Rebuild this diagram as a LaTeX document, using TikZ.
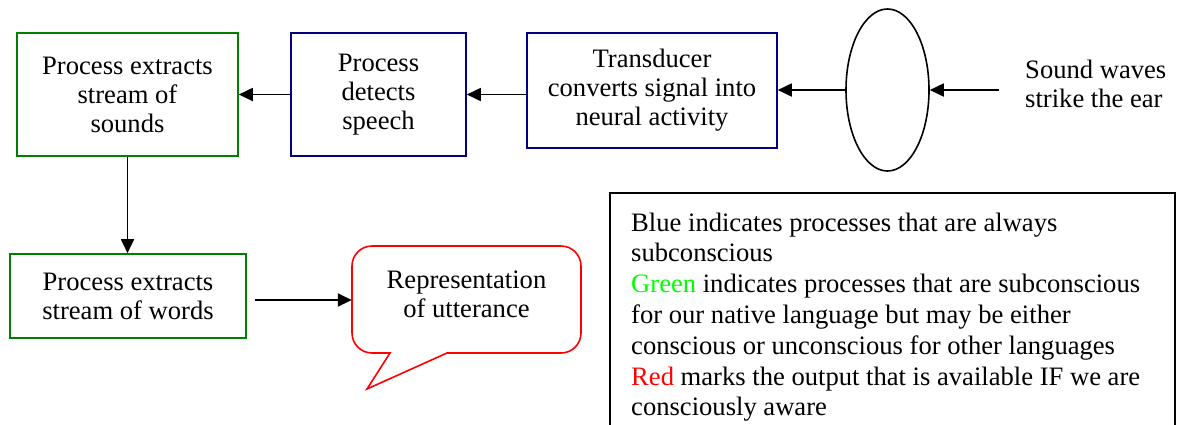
\documentclass[tikz,border=0pt]{standalone}
\usepackage{fontspec}
\setmainfont{Liberation Serif}
\newfontfamily\diagramserif{Liberation Serif}
\usetikzlibrary{shapes.geometric,arrows.meta}
\definecolor{procgreen}{RGB}{0,128,0}
\definecolor{procblue}{RGB}{0,0,128}
\definecolor{litegreen}{RGB}{0,255,0}
\tikzset{
  x=1pt, y=-1pt,
  every node/.style={font=\diagramserif\fontsize{26.6}{29}\selectfont, inner sep=0pt, align=center},
  gbox/.style={draw=procgreen, line width=1.6pt, rectangle},
  bbox/.style={draw=procblue, line width=1.6pt, rectangle},
  arr/.style={line width=1.8pt, -{Triangle[length=14pt,width=13pt]}},
}
\begin{document}
\begin{tikzpicture}
\useasboundingbox (0,0) rectangle (1182,424);

% processing stages
\node[gbox, minimum width=221pt, minimum height=123pt] (b1) at (127.5,94.5)
  {Process extracts\\stream of\\sounds};
\node[bbox, minimum width=175pt, minimum height=123pt] (b2) at (378.5,94.5)
  {Process\\detects\\speech};
\node[bbox, minimum width=250pt, minimum height=115pt] (b3) at (652,90.5)
  {Transducer\\converts signal into\\neural activity};
\node[gbox, minimum width=236pt, minimum height=84pt] (b4) at (128,296)
  {Process extracts\\stream of words};

% the ear
\node[draw, ellipse, line width=1.6pt, minimum width=83pt, minimum height=162pt] (ear) at (887.5,90) {};
\node[anchor=west, align=left] (sw) at (1025,84) {Sound waves\\strike the ear};
\coordinate (src) at (999,90);

% output speech bubble
\node[minimum width=229pt, minimum height=107pt] (call) at (466.5,299.5) {};
\node (ct) at (466.5,294) {Representation\\of utterance};
\draw[red, line width=1.6pt]
  (390,353) -- (372,353) arc[start angle=90, end angle=180, radius=20]
  -- (352,266) arc[start angle=180, end angle=270, radius=20]
  -- (561,246) arc[start angle=270, end angle=360, radius=20]
  -- (581,333) arc[start angle=0, end angle=90, radius=20]
  -- (447,353) -- (367,389) -- cycle;

% connectors
\draw[arr] (src) -- (ear.east |- src);
\draw[arr] (ear.west) -- (b3.east |- ear.west);
\draw[arr] (b3.west |- b2.east) -- (b2.east);
\draw[arr] (b2.west) -- (b1.east);
\draw[arr] (b1.south) -- (b1.south |- b4.north);
\draw[arr] ([shift={(8pt,-4pt)}]b4.east) -- (call.west |- 0,300);

% legend (base anchor sits on the last line)
\draw[line width=1.6pt] (610,430) -- (610,193) -- (1175,193) -- (1175,430);
\node[anchor=base west, align=left, font=\diagramserif\fontsize{26.6}{30.8}\selectfont] (key) at (631,415.8)
  {Blue indicates processes that are always\\
   subconscious\\
   \textcolor{litegreen}{Green} indicates processes that are subconscious\\
   for our native language but may be either\\
   conscious or unconscious for other languages\\
   \textcolor{red}{Red} marks the output that is available IF we are\\
   consciously aware};
\end{tikzpicture}
\end{document}
